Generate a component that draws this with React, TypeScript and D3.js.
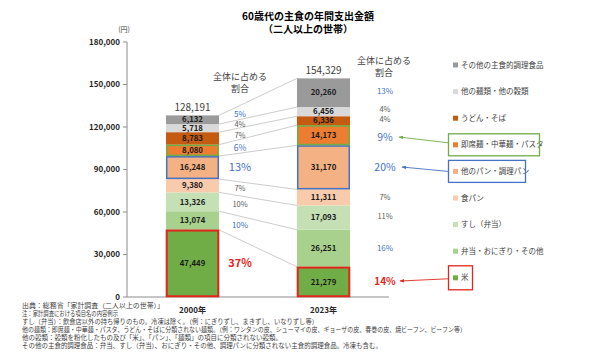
import React from "react";
import * as d3 from "d3";

const categories = ["2000年", "2023年"];
const seriesNames = [
  "米",
  "弁当・おにぎり・その他",
  "すし（弁当）",
  "食パン",
  "他のパン・調理パン",
  "即席麺・中華麺・パスタ",
  "うどん・そば",
  "他の麺類・他の穀類",
  "その他の主食的調理食品",
];
const values2000 = [47449, 13074, 13326, 9380, 16248, 8080, 8783, 5718, 6132];
const values2023 = [21279, 26251, 17093, 11311, 31170, 14173, 6336, 6456, 20260];
const totals = [128191, 154329];
const share2000 = ["37%", "10%", "10%", "7%", "13%", "6%", "7%", "4%", "5%"];
const share2023 = ["14%", "16%", "11%", "7%", "20%", "9%", "4%", "4%", "13%"];
const yTicks = [0, 30000, 60000, 90000, 120000, 150000, 180000];
const footnotes = [
  "出典：総務省「家計調査（二人以上の世帯）」",
  "注：家計調査における項目名の内容例示",
  "すし（弁当）：飲食店以外の持ち帰りのもの。冷凍は除く。（例：にぎりずし、まきずし、いなりずし等）",
  "他の麺類：即席麺・中華麺・パスタ、うどん・そばに分類されない麺類。（例：ワンタンの皮、シューマイの皮、ギョーザの皮、春巻の皮、焼ビーフン、ビーフン等）",
  "他の穀類：穀類を粉化したもの及び「米」、「パン」、「麺類」の項目に分類されない穀類。",
  "その他の主食的調理食品：弁当、すし（弁当）、おにぎり・その他、調理パンに分類されない主食的調理食品。冷凍も含む。",
];

// styling
const colors = ["#70ad47", "#a9d18e", "#c5e0b4", "#f8cbad", "#f4b183", "#ed7d31", "#c55a11", "#d9d9d9", "#9a9a9a"];
const BLUE = "#4472c4";
const RED = "#e0261c";
const GREEN = "#70ad47";
const GREY = "#595959";
const FONT = "'Noto Sans CJK JP', 'Noto Sans', sans-serif";
const outlines: Record<number, string> = { 0: RED, 4: BLUE, 5: GREEN };
// share label style [colour, size2000, size2023, weight]
const shareStyle: [string, number, number, number][] = [
  [RED, 11, 10, 700],
  [BLUE, 8, 8, 400],
  [GREY, 7.5, 7.5, 400],
  [GREY, 7.5, 7.5, 400],
  [BLUE, 11, 10.5, 400],
  [BLUE, 8.5, 10.5, 400],
  [GREY, 7.5, 7.5, 400],
  [GREY, 7.5, 7.5, 400],
  [BLUE, 8, 8, 400],
];
const nudge2000 = [0, 5, 3, 3, 0, -2, -3, -4, -6];
const nudge2023 = [0, 0, -1, 0, 0, 2, -1, -2, -2];
// footnote rendered widths (px)
const footWidths = [142, 96, 296, 444, 260, 360];

const W = 590;
const H = 357;

export default function App() {
  const y = d3.scaleLinear().domain([0, 180000]).range([297, 42]);
  const x = d3
    .scaleBand<string>()
    .domain(categories)
    .range([127, 389])
    .paddingInner(0.595)
    .paddingOuter(0.2975);
  const bw = x.bandwidth();

  const table = categories.map((c) => {
    const o: any = { cat: c };
    seriesNames.forEach((s, i) => (o[s] = c === "2000年" ? values2000[i] : values2023[i]));
    return o;
  });
  const stack = d3.stack<any>().keys(seriesNames)(table);

  const x0 = x(categories[0])!;
  const x1 = x(categories[1])!;

  const bounds = seriesNames.map((_, i) => [stack[i][0][1], stack[i][1][1]]);

  const legendX = 453;
  const legendY0 = 65;
  const legendStep = 26.6;
  const legendItems = seriesNames.slice().reverse();

  const boxes: { idx: number; w: number; color: string; labelX: number; labelY: number; dy: number }[] = [
    { idx: 5, w: 91, color: GREEN, labelX: 399, labelY: 137, dy: -2 },
    { idx: 4, w: 77, color: BLUE, labelX: 402, labelY: 167, dy: 0 },
    { idx: 0, w: 24, color: RED, labelX: 400, labelY: 281, dy: 1 },
  ];

  return (
    <svg width={W} height={H} style={{ position: "absolute", left: 0, top: 0, background: "#fff" }} fontFamily={FONT}>
      <defs>
        {[GREEN, BLUE, RED].map((c, i) => (
          <marker key={i} id={`arr${i}`} viewBox="0 0 10 10" refX="9" refY="5" markerWidth="5" markerHeight="5" orient="auto-start-reverse">
            <path d="M0,1 L10,5 L0,9 z" fill={c} />
          </marker>
        ))}
      </defs>
      <rect width={W} height={H} fill="#fff" />
      <text x={308} y={20} textAnchor="middle" fontSize={10} fontWeight={700} fill="#000">
        60歳代の主食の年間支出金額
      </text>
      <text x={308} y={33} textAnchor="middle" fontSize={10} fontWeight={700} fill="#000">
        （二人以上の世帯）
      </text>
      <text x={124} y={32} textAnchor="middle" fontSize={7} fill="#404040">
        (円)
      </text>
      <line x1={127} x2={127} y1={y(180000)} y2={y(0)} stroke="#8c8c8c" strokeWidth={1} />
      {yTicks.map((t) => (
        <g key={t}>
          <line x1={123} x2={127} y1={y(t)} y2={y(t)} stroke="#8c8c8c" />
          <text x={120} y={y(t)} dy="0.35em" textAnchor="end" fontSize={8} fontWeight={700} fill="#262626">
            {d3.format(",")(t)}
          </text>
        </g>
      ))}
      <line x1={127} x2={389} y1={y(0)} y2={y(0)} stroke="#8c8c8c" />
      {categories.map((c) => (
        <text key={c} x={x(c)! + bw / 2} y={313} textAnchor="middle" fontSize={8} fontWeight={700} fill="#262626">
          {c}
        </text>
      ))}
      {bounds.map((b, i) => (
        <line key={i} x1={x0 + bw} x2={x1} y1={y(b[0])} y2={y(b[1])} stroke="#bfbfbf" strokeWidth={0.8} />
      ))}
      {stack.map((layer, i) => (
        <g key={layer.key}>
          {layer.map((d, j) => {
            const cat = categories[j];
            return <rect key={cat} x={x(cat)} y={y(d[1])} width={bw} height={y(d[0]) - y(d[1])} fill={colors[i]} />;
          })}
        </g>
      ))}
      {stack.map((layer, i) =>
        outlines[i]
          ? layer.map((d, j) => (
              <rect
                key={`${i}-${j}`}
                x={x(categories[j])! + 0.75}
                y={y(d[1]) + 0.75}
                width={bw - 1.5}
                height={y(d[0]) - y(d[1]) - 1.5}
                fill="none"
                stroke={outlines[i]}
                strokeWidth={i === 0 ? 2 : 1.5}
              />
            ))
          : null
      )}
      {stack.map((layer, i) =>
        layer.map((d, j) => (
          <text
            key={`v${i}-${j}`}
            x={x(categories[j])! + bw / 2}
            y={(y(d[0]) + y(d[1])) / 2}
            dy="0.35em"
            textAnchor="middle"
            fontSize={7.8}
            fontWeight={700}
            fill="#1a1a1a"
          >
            {d3.format(",")(d.data[seriesNames[i]])}
          </text>
        ))
      )}
      {categories.map((c, j) => (
        <text key={c} x={x(c)! + bw / 2} y={y(totals[j]) - 8} dy="0.35em" textAnchor="middle" fontSize={10} fill="#404040">
          {d3.format(",")(totals[j])}
        </text>
      ))}
      {[240, 384].map((cx, k) => (
        <g key={k}>
          <text x={cx} y={k === 0 ? 77 : 61} dy="0.35em" textAnchor="middle" fontSize={9} fill="#404040">
            全体に占める
          </text>
          <text x={cx} y={k === 0 ? 89 : 73} dy="0.35em" textAnchor="middle" fontSize={9} fill="#404040">
            割合
          </text>
        </g>
      ))}
      {stack.map((layer, i) =>
        layer.map((d, j) => {
          const st = shareStyle[i];
          const cy = (y(d[0]) + y(d[1])) / 2 + (j === 0 ? nudge2000[i] : nudge2023[i]);
          return (
            <text
              key={`s${i}-${j}`}
              x={j === 0 ? 240 : 385}
              y={cy}
              dy="0.35em"
              textAnchor="middle"
              fontSize={j === 0 ? st[1] : st[2]}
              fontWeight={st[3]}
              fill={st[0]}
            >
              {j === 0 ? share2000[i] : share2023[i]}
            </text>
          );
        })
      )}
      {legendItems.map((s, k) => {
        const idx = seriesNames.indexOf(s);
        const ly = legendY0 + k * legendStep;
        return (
          <g key={s}>
            <rect x={legendX} y={ly - 2.5} width={5} height={5} fill={colors[idx]} />
            <text x={legendX + 8} y={ly} dy="0.35em" fontSize={7.5} fill="#404040">
              {s}
            </text>
          </g>
        );
      })}
      {boxes.map((b, k) => {
        const pos = legendItems.indexOf(seriesNames[b.idx]);
        const ly = legendY0 + pos * legendStep;
        const h = b.idx === 0 ? 24 : 22;
        return (
          <g key={k}>
            <rect x={448.5} y={ly - h / 2} width={b.w} height={h} fill="none" stroke={b.color} strokeWidth={1.3} />
            <line
              x1={448}
              y1={ly + b.dy}
              x2={b.labelX}
              y2={b.labelY}
              stroke={b.color}
              strokeWidth={0.9}
              markerEnd={`url(#arr${k})`}
            />
          </g>
        );
      })}
      {footnotes.map((f, k) => (
        <text
          key={k}
          x={22}
          y={306 + k * 8}
          dy="0.35em"
          fontSize={6.4}
          fill="#404040"
          textLength={footWidths[k]}
          lengthAdjust="spacingAndGlyphs"
        >
          {f}
        </text>
      ))}
    </svg>
  );
}
